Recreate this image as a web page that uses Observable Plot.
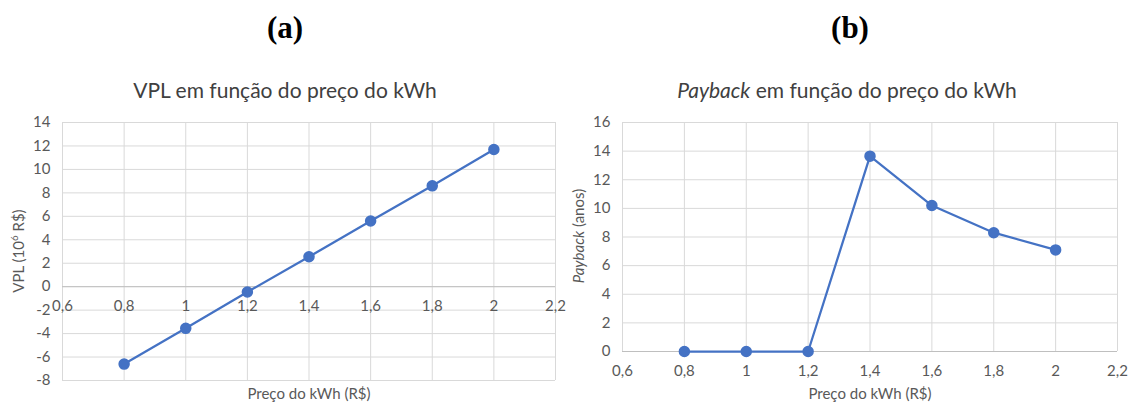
<!DOCTYPE html>
<html>
<head>
<meta charset="utf-8">
<script src="https://cdn.jsdelivr.net/npm/d3@7"></script>
<script src="https://cdn.jsdelivr.net/npm/@observablehq/plot@0.6"></script>
<style>
  html, body { margin: 0; padding: 0; background: #fff; }
  #root { position: relative; width: 1128px; height: 403px; overflow: hidden; font-family: Lato, "Open Sans", sans-serif; }
  .abs { position: absolute; white-space: nowrap; transform: translate(-50%, -50%); }
  .panel { font-family: "Liberation Serif", "Times New Roman", serif; font-weight: bold; font-size: 31px; color: #000; }
  .title { font-size: 21px; color: #404040; }
  .axlabel { font-size: 15px; color: #595959; }
  .rot { transform: translate(-50%, -50%) rotate(-90deg); }
  .chart { position: absolute; top: 100px; }
</style>
</head>
<body>
<div id="root"></div>
<script>
// ---- data ----
const precos = [0.8, 1.0, 1.2, 1.4, 1.6, 1.8, 2.0];
const vpl = [-6.6, -3.55, -0.45, 2.55, 5.6, 8.6, 11.7];
const payback = [0, 0, 0, 13.65, 10.2, 8.3, 7.1];
const xTicks = [0.6, 0.8, 1, 1.2, 1.4, 1.6, 1.8, 2, 2.2];
const vplTicks = [-8, -6, -4, -2, 0, 2, 4, 6, 8, 10, 12, 14];
const paybackTicks = [0, 2, 4, 6, 8, 10, 12, 14, 16];
const panelLabels = ["(a)", "(b)"];
const titles = ["VPL em função do preço do kWh", "<i>Payback</i> em função do preço do kWh"];
const xLabel = "Preço do kWh (R$)";
const yLabels = ["VPL (10<sup style='font-size:0.65em'>6</sup> R$)", "<i>Payback</i> (anos)"];

const fmt = d => String(d).replace(".", ",");
const BLUE = "#4472C4";
const GRID = "#d9d9d9";
const root = document.getElementById("root");

function makeChart(values, yTicks, opts) {
  const data = precos.map((p, i) => ({x: p, y: values[i]}));
  return Plot.plot({
    width: opts.width,
    height: 303,
    marginLeft: 62,
    marginRight: opts.marginRight,
    marginTop: 22,
    marginBottom: opts.marginBottom,
    style: {fontFamily: "Lato, 'Open Sans', sans-serif", fontSize: "15px", color: "#595959", background: "transparent"},
    x: {domain: [0.6, 2.2], axis: null},
    y: {domain: [yTicks[0], yTicks[yTicks.length - 1]]},
    marks: [
      Plot.ruleX(xTicks, {x: d => d, stroke: GRID, strokeWidth: 1}),
      Plot.ruleY(yTicks, {y: d => d, stroke: GRID, strokeWidth: 1}),
      Plot.ruleY([0], {y: d => d, stroke: "#bfbfbf", strokeWidth: 1}),
      Plot.axisY({ticks: yTicks, tickSize: 0, tickPadding: 12, label: null, tickFormat: fmt, fontSize: 15}),
      Plot.text(xTicks, {x: d => d, y: 0, dy: 20, text: fmt, fill: "#595959", fontSize: 15}),
      Plot.line(data, {x: "x", y: "y", stroke: BLUE, strokeWidth: 2.25}),
      Plot.dot(data, {x: "x", y: "y", r: 5, fill: BLUE, stroke: BLUE})
    ]
  });
}

function addText(html, cls, x, y) {
  const d = document.createElement("div");
  d.className = "abs " + cls;
  d.innerHTML = html;
  d.style.left = x + "px";
  d.style.top = y + "px";
  root.appendChild(d);
}

const left = makeChart(vpl, vplTicks, {width: 575, marginRight: 20, marginBottom: 23});
left.classList.add("chart");
left.style.left = "0px";
root.appendChild(left);

const right = makeChart(payback, paybackTicks, {width: 568, marginRight: 11, marginBottom: 52});
right.classList.add("chart");
right.style.left = "560px";
root.appendChild(right);

addText(panelLabels[0], "panel", 285, 28);
addText(panelLabels[1], "panel", 850, 28);
addText(titles[0], "title", 285, 89);
addText(titles[1], "title", 847, 89);
addText(xLabel, "axlabel", 309, 393);
addText(xLabel, "axlabel", 870, 393);
addText(yLabels[0], "axlabel rot", 17, 251);
addText(yLabels[1], "axlabel rot", 578, 236);
</script>
</body>
</html>
